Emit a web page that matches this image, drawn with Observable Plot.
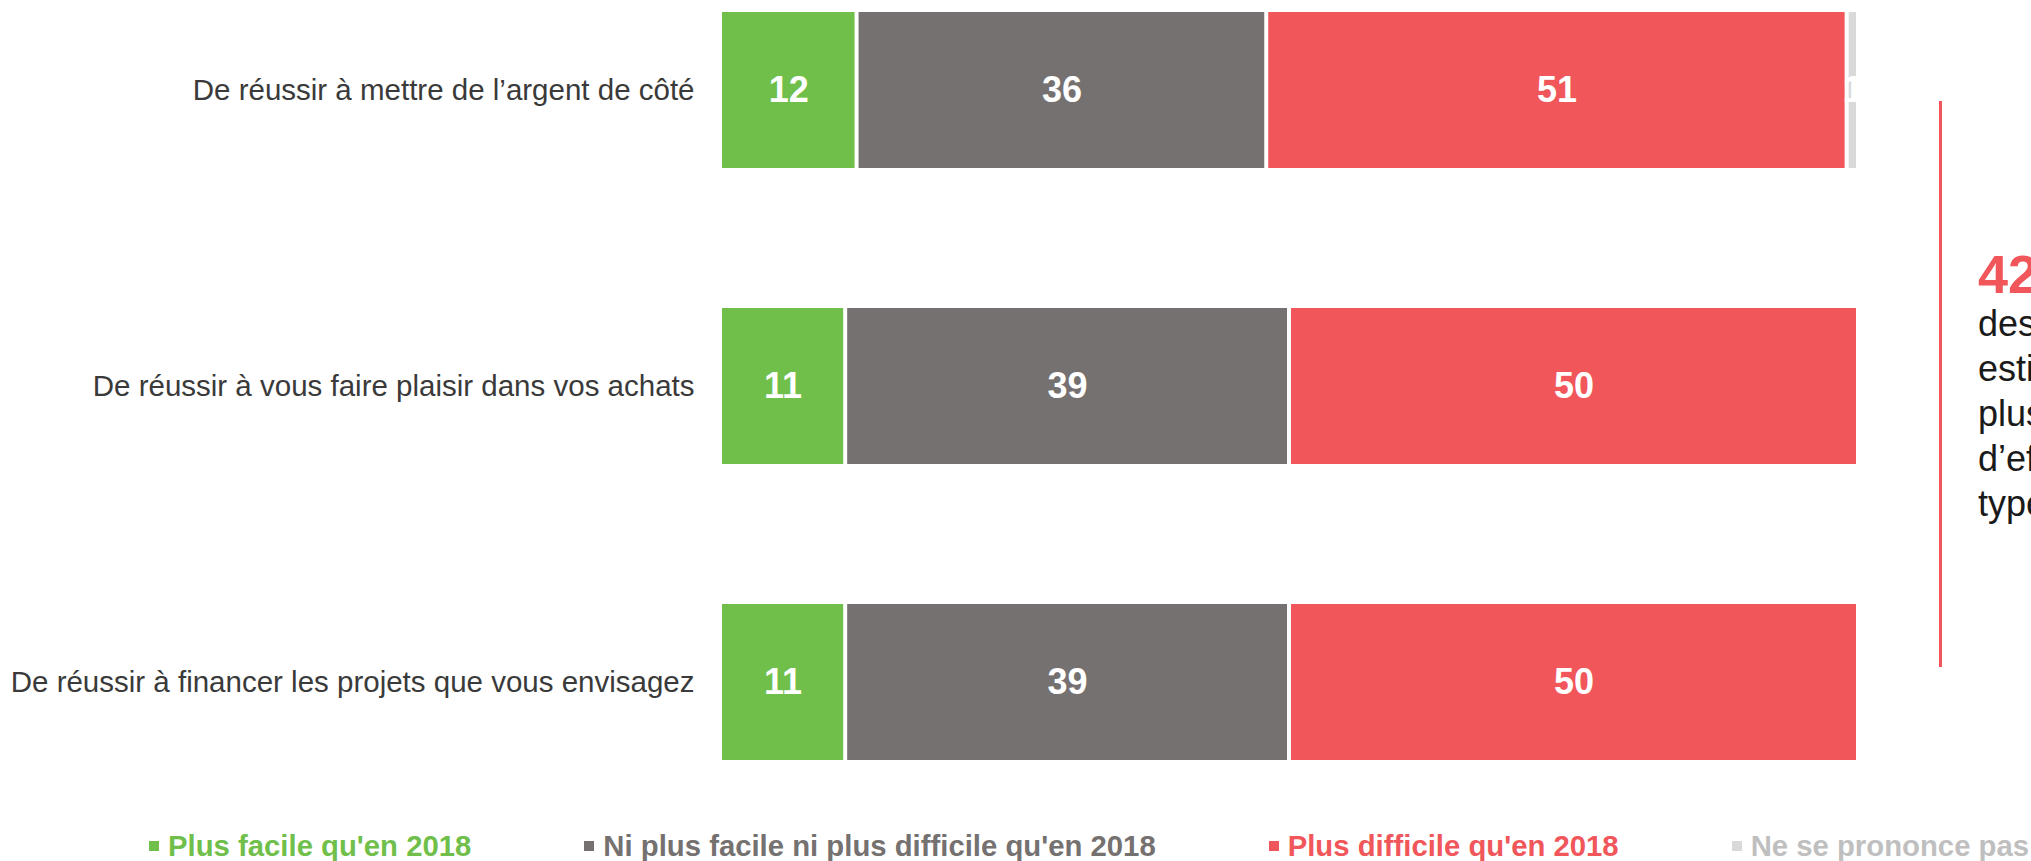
<!DOCTYPE html>
<html>
<head>
<meta charset="utf-8">
<script src="https://cdn.jsdelivr.net/npm/d3@7"></script>
<script src="https://cdn.jsdelivr.net/npm/@observablehq/plot@0.6"></script>
<style>
  html, body { margin: 0; padding: 0; background: #fff; overflow: hidden; }
  #wrap { position: relative; width: 2031px; height: 861px; font-family: "Liberation Sans", Arial, sans-serif; }
  #legend { position: absolute; left: 149px; top: 829px; display: flex; gap: 113px; white-space: nowrap; }
  #legend .item { display: flex; align-items: center; font-size: 29.3px; font-weight: bold; line-height: 34px; }
  #legend .sw { display: inline-block; width: 10px; height: 10px; margin-right: 9px; }
  #rule { position: absolute; left: 1939px; top: 101px; width: 3px; height: 566px; background: #F0565A; }
  #big { position: absolute; left: 1978px; top: 247px; font-size: 54px; line-height: 1; font-weight: bold; color: #F0565A; white-space: nowrap; }
  #note { position: absolute; left: 1978px; top: 301px; font-size: 36px; line-height: 45px; color: #1a1a1a; white-space: nowrap; }
</style>
</head>
<body>
<div id="wrap">
  <div id="chart"></div>
  <div id="legend"></div>
  <div id="rule"></div>
  <div id="big"></div>
  <div id="note"></div>
</div>
<script>
// ---- data ----
const items = [
  "De réussir à mettre de l’argent de côté",
  "De réussir à vous faire plaisir dans vos achats",
  "De réussir à financer les projets que vous envisagez"
];
const categories = [
  "Plus facile qu'en 2018",
  "Ni plus facile ni plus difficile qu'en 2018",
  "Plus difficile qu'en 2018",
  "Ne se prononce pas"
];
const colors = ["#70BF4B", "#757170", "#F0565A", "#D9D9D9"];
const legendTextColors = ["#70BF4B", "#757170", "#F0565A", "#BFBFBF"];
const plusFacile    = [12, 11, 11];
const niNi          = [36, 39, 39];
const plusDifficile = [51, 50, 50];
const nsp           = [1, 0, 0];
const annotationBig = "42%";
const annotationLines = ["des Français", "estiment qu’il est", "plus difficile", "d’effectuer ce", "type de dépenses"];

// ---- build table ----
const series = [plusFacile, niNi, plusDifficile, nsp];
const data = [];
items.forEach((item, i) => {
  categories.forEach((cat, j) => {
    if (series[j][i] > 0) data.push({item, cat, value: series[j][i]});
  });
});

const chart = Plot.plot({
  width: 2031,
  height: 800,
  marginLeft: 720,
  marginRight: 173,
  marginTop: 12,
  marginBottom: 40,
  style: {fontFamily: "\"Liberation Sans\", Arial, sans-serif", fontSize: "29.5px", background: "white", overflow: "visible"},
  x: {domain: [0, 100], axis: null},
  y: {domain: items, paddingInner: 0.4735, paddingOuter: 0, label: null},
  color: {domain: categories, range: colors},
  marks: [
    Plot.barX(data, Plot.stackX({
      x: "value", y: "item", fill: "cat", z: "cat", order: categories,
      insetLeft: 2, insetRight: 2
    })),
    Plot.text(data, Plot.stackX({
      x: "value", y: "item", z: "cat", order: categories,
      text: d => String(d.value), fill: "white", fontWeight: "bold", fontSize: 36
    })),
    Plot.axisY({tickSize: 0, tickPadding: 26, fill: "#3a3a3a", fontSize: 29.5, label: null})
  ]
});
document.getElementById("chart").appendChild(chart);

// legend
const legend = document.getElementById("legend");
categories.forEach((cat, j) => {
  const it = document.createElement("div");
  it.className = "item";
  it.style.color = legendTextColors[j];
  const sw = document.createElement("span");
  sw.className = "sw";
  sw.style.background = colors[j];
  it.appendChild(sw);
  it.appendChild(document.createTextNode(cat));
  legend.appendChild(it);
});

document.getElementById("big").textContent = annotationBig;
const note = document.getElementById("note");
annotationLines.forEach(l => {
  const d = document.createElement("div");
  d.textContent = l;
  note.appendChild(d);
});
</script>
</body>
</html>
